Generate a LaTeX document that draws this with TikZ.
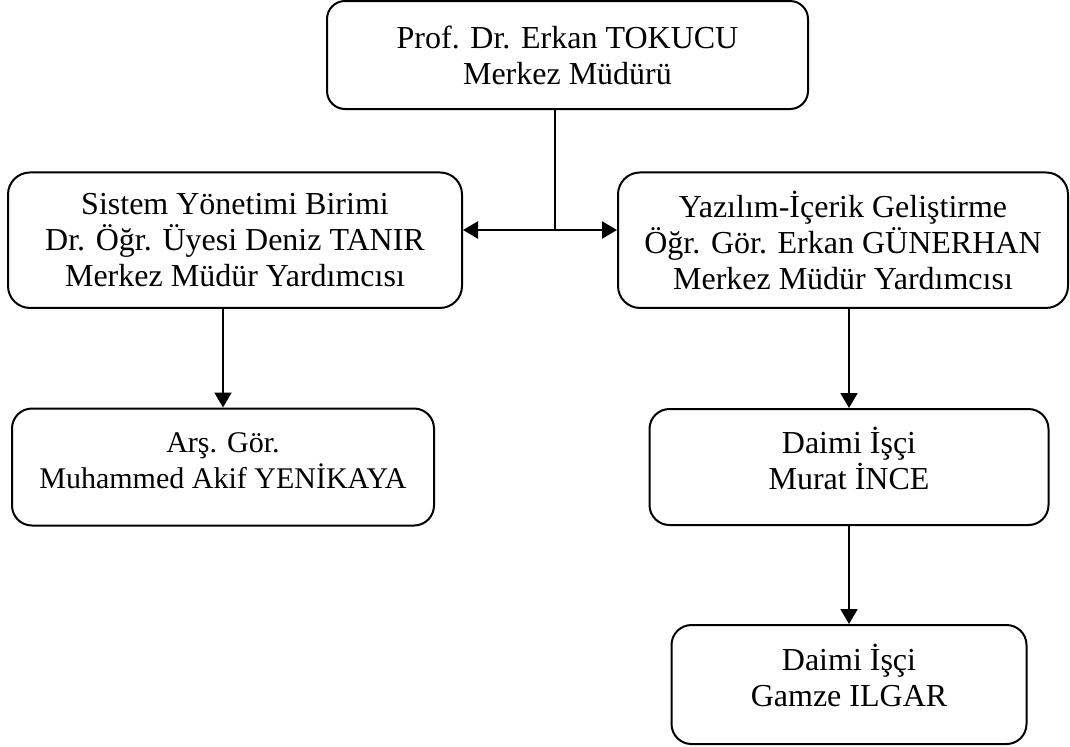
\documentclass[tikz,border=0pt]{standalone}
\usepackage{fontspec}
\setmainfont{Liberation Serif}
\usetikzlibrary{arrows.meta}
\tikzset{%
  box/.style = {rectangle,draw,solid,rounded corners=10pt,line width=1pt,
        align=center,font=\fontsize{16}{18}\selectfont},
  downarrow/.style = {-{Triangle[length=7.5pt,width=8.5pt]},line width=1pt},
  botharrow/.style = {{Triangle[length=7.5pt,width=8.5pt]}-{Triangle[length=7.5pt,width=8.5pt]},
        line width=1.2pt},
  noedge/.style = {draw=none}
}
\begin{document}
\begin{tikzpicture}[level 1/.style={sibling distance=304pt,level distance=92.6pt},
        level 2/.style={level distance=113.4pt},
        level 3/.style={level distance=108.75pt},
        edge from parent path={(\tikzchildnode.north |- \tikzparentnode.south) -- (\tikzchildnode.north)}]
    \useasboundingbox (0,0) rectangle (535pt,-373pt);
    \node[box,minimum width=240.5pt,minimum height=54pt,rounded corners=9pt] (dir) at (283.75pt,-27.5pt)
        {Prof. Dr. Erkan TOKUCU\\ Merkez Müdürü}
    child[xshift=-14.25pt]{ node[box,minimum width=227pt,minimum height=67.75pt,rounded corners=11pt] (sys)
            {Sistem Yönetimi Birimi\\ Dr. Öğr. Üyesi Deniz TANIR\\ Merkez Müdür Yardımcısı}
            edge from parent[noedge]
            child[xshift=-6pt]{ node[box,minimum width=211pt,minimum height=58.5pt,text depth=6pt,
                    font=\fontsize{15}{18}\selectfont] (ars)
                {Arş. Gör.\\ Muhammed Akif YENİKAYA} edge from parent[downarrow]
            }
    }
    child[xshift=-14.25pt]{ node[box,minimum width=225pt,minimum height=67.75pt,rounded corners=11pt] (yaz)
            {Yazılım-İçerik Geliştirme\\ Öğr. Gör. Erkan GÜNERHAN\\ Merkez Müdür Yardımcısı}
            edge from parent[noedge]
            child[xshift=3pt]{ node[box,minimum width=199.5pt,minimum height=58pt,text depth=9pt] (murat)
                {Daimi İşçi\\ Murat İNCE} edge from parent[downarrow]
                child{ node[box,minimum width=177.5pt,minimum height=59.5pt,text depth=9pt] (gamze)
                    {Daimi İşçi\\ Gamze ILGAR} edge from parent[downarrow]
                }
            }
    };
    % T-connector between the two deputies
    \coordinate (jn) at (277.5pt,-115pt);
    \draw[line width=0.8pt] (jn |- dir.south) -- (jn);
    \draw[botharrow] (jn -| sys.east) -- (jn -| yaz.west);
\end{tikzpicture}
\end{document}
